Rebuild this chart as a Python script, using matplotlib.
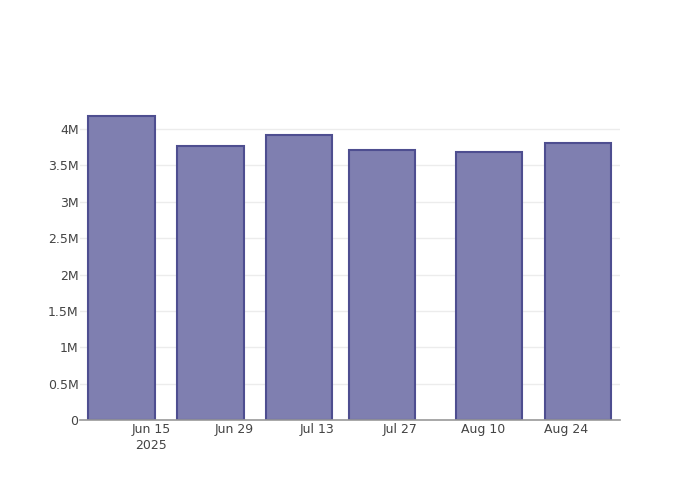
import matplotlib.pyplot as plt
import matplotlib.dates as mdates
import numpy as np
from datetime import datetime, timedelta

dates = ['2025-06-10', '2025-06-25', '2025-07-10', '2025-07-24', '2025-08-11', '2025-08-26']
values = [4.18e6, 3.77e6, 3.92e6, 3.71e6, 3.68e6, 3.81e6]
tick_dates = ['2025-06-15', '2025-06-29', '2025-07-13', '2025-07-27', '2025-08-10', '2025-08-24']
tick_labels = ['Jun 15\n2025', 'Jun 29', 'Jul 13', 'Jul 27', 'Aug 10', 'Aug 24']
y_ticks = [0, 0.5e6, 1e6, 1.5e6, 2e6, 2.5e6, 3e6, 3.5e6, 4e6]
y_labels = ['0', '0.5M', '1M', '1.5M', '2M', '2.5M', '3M', '3.5M', '4M']

x = [datetime.strptime(d, '%Y-%m-%d') for d in dates]
xt = [datetime.strptime(d, '%Y-%m-%d') for d in tick_dates]

fig = plt.figure(figsize=(7, 5), dpi=100)
ax = fig.add_axes([80 / 700, 80 / 500, 540 / 700, 320 / 500])

ax.bar(x, values, width=11.2, color='#7f7fb0', edgecolor='#4e4e90', linewidth=1.5, zorder=3)

ax.set_xlim(datetime(2025, 6, 3), datetime(2025, 9, 2, 3))
ax.set_ylim(0, 4.4e6)
ax.set_xticks(xt)
ax.set_xticklabels(tick_labels, linespacing=1.35)
ax.set_yticks(y_ticks)
ax.set_yticklabels(y_labels)

ax.grid(axis='y', color='#ececec', linewidth=1, zorder=0)
for s in ['top', 'right', 'left']:
    ax.spines[s].set_visible(False)
ax.spines['bottom'].set_color('#999999')
ax.spines['bottom'].set_linewidth(1.2)
ax.spines['bottom'].set_zorder(4)
ax.tick_params(length=0, labelsize=9, colors='#444444')
ax.tick_params(axis='x', pad=2)
ax.tick_params(axis='y', pad=1)

fig.savefig('out.png')
